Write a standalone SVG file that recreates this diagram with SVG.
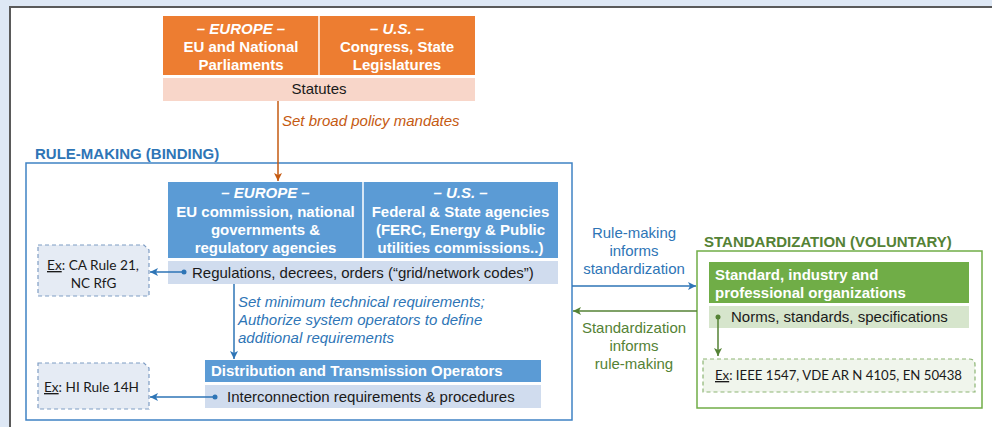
<svg xmlns="http://www.w3.org/2000/svg" width="992" height="427" viewBox="0 0 992 427">
<defs>
<style>
text{font-family:"Liberation Sans",Arial,sans-serif;}
.hw{font-size:15px;font-weight:bold;fill:#fff;text-anchor:middle;}
.hwl{font-size:15px;font-weight:bold;fill:#fff;}
.bar{font-size:15px;fill:#1a1a1a;}
.ex{font-family:Lato,"Liberation Sans",sans-serif;font-size:13.5px;fill:#1a1a1a;}
.it{font-size:15px;font-style:italic;}
.ttl{font-size:15px;font-weight:bold;}
</style>
<marker id="aO" markerWidth="9" markerHeight="8" refX="8" refY="4" orient="auto" markerUnits="userSpaceOnUse"><path d="M0,0 L8,4 L0,8 L2,4 Z" fill="#C55A11"/></marker>
<marker id="aB" markerWidth="9" markerHeight="8" refX="8" refY="4" orient="auto" markerUnits="userSpaceOnUse"><path d="M0,0 L8,4 L0,8 L2,4 Z" fill="#2E75B6"/></marker>
<marker id="aG" markerWidth="9" markerHeight="8" refX="8" refY="4" orient="auto" markerUnits="userSpaceOnUse"><path d="M0,0 L8,4 L0,8 L2,4 Z" fill="#548235"/></marker>
<marker id="dB" markerWidth="6" markerHeight="6" refX="3" refY="3" markerUnits="userSpaceOnUse"><circle cx="3" cy="3" r="2.5" fill="#2E75B6"/></marker>
<marker id="dG" markerWidth="6" markerHeight="6" refX="3" refY="3" markerUnits="userSpaceOnUse"><circle cx="3" cy="3" r="2.5" fill="#548235"/></marker>
</defs>
<rect x="0" y="0" width="992" height="427" fill="#DEE8F5"/>
<rect x="10" y="7" width="1000" height="440" fill="#fff" stroke="#5a5a5a" stroke-width="2"/>

<g id="legislature">
<rect x="163" y="16" width="156" height="59" fill="#ED7D31"/>
<rect x="319" y="16" width="156" height="59" fill="#ED7D31"/>
<line x1="319" y1="16" x2="319" y2="75" stroke="#fff" stroke-width="1.5"/>
<text class="hw" x="241" y="34"><tspan font-style="italic">– EUROPE –</tspan></text>
<text class="hw" x="241" y="52">EU and National</text>
<text class="hw" x="241" y="70">Parliaments</text>
<text class="hw" x="397" y="34"><tspan font-style="italic">– U.S. –</tspan></text>
<text class="hw" x="397" y="52">Congress, State</text>
<text class="hw" x="397" y="70">Legislatures</text>
<rect x="163" y="78" width="312" height="23" fill="#F8D6C9"/>
<text class="bar" x="319" y="94" text-anchor="middle">Statutes</text>
</g>

<g id="rulemaking">
<rect x="26" y="163" width="546" height="257" fill="none" stroke="#3F82C4" stroke-width="1.5"/>
<text class="ttl" x="35" y="159" fill="#2E75B6">RULE-MAKING (BINDING)</text>
</g>

<g id="agencies">
<rect x="168" y="182" width="390" height="76" fill="#5B9BD5"/>
<line x1="363" y1="182" x2="363" y2="258" stroke="#fff" stroke-width="1.5"/>
<text class="hw" x="265.5" y="198"><tspan font-style="italic">– EUROPE –</tspan></text>
<text class="hw" x="265.5" y="217">EU commission, national</text>
<text class="hw" x="265.5" y="235">governments &amp;</text>
<text class="hw" x="265.5" y="253">regulatory agencies</text>
<text class="hw" x="460.5" y="198"><tspan font-style="italic">– U.S. –</tspan></text>
<text class="hw" x="460.5" y="217">Federal &amp; State agencies</text>
<text class="hw" x="460.5" y="235">(FERC, Energy &amp; Public</text>
<text class="hw" x="460.5" y="253">utilities commissions..)</text>
<rect x="168" y="261" width="390" height="23" fill="#D0DCEE"/>
<text class="bar" x="192" y="278">Regulations, decrees, orders (“grid/network codes”)</text>
</g>

<g id="ex-ca">
<path d="M38,245 H144 L149,250 V296 H38 Z" fill="#E5EBF4" stroke="#7F9DC4" stroke-width="1.2" stroke-dasharray="4,3"/>
<text class="ex" x="47" y="270" textLength="92" lengthAdjust="spacingAndGlyphs"><tspan text-decoration="underline">Ex</tspan>: CA Rule 21,</text>
<text class="ex" x="93.5" y="288" text-anchor="middle">NC RfG</text>
</g>

<g id="operators">
<rect x="205" y="360" width="336" height="22" fill="#5B9BD5"/>
<text class="hwl" x="211" y="376">Distribution and Transmission Operators</text>
<rect x="205" y="385" width="336" height="23" fill="#D0DCEE"/>
<text class="bar" x="227" y="402">Interconnection requirements &amp; procedures</text>
</g>

<g id="ex-hi">
<path d="M38,363 H144 L149,368 V409 H38 Z" fill="#E5EBF4" stroke="#7F9DC4" stroke-width="1.2" stroke-dasharray="4,3"/>
<text class="ex" x="44" y="392" textLength="95" lengthAdjust="spacingAndGlyphs"><tspan text-decoration="underline">Ex</tspan>: HI Rule 14H</text>
</g>

<g id="standardization">
<rect x="697" y="251" width="285" height="157" fill="none" stroke="#70AD47" stroke-width="1.5"/>
<text class="ttl" x="704" y="247" fill="#548235">STANDARDIZATION (VOLUNTARY)</text>
</g>

<g id="organizations">
<rect x="709" y="262" width="260" height="41" fill="#70AD47"/>
<text class="hwl" x="715" y="280">Standard, industry and</text>
<text class="hwl" x="715" y="298">professional organizations</text>
<rect x="709" y="306" width="260" height="22" fill="#D6E5CC"/>
<text class="bar" x="731" y="322">Norms, standards, specifications</text>
</g>

<g id="ex-ieee">
<path d="M703,359 H969 Q975,359 975,365 V392 H703 Z" fill="#F0F5EC" stroke="#8DB574" stroke-width="1.2" stroke-dasharray="4,3"/>
<text class="ex" x="715" y="380" textLength="247" lengthAdjust="spacingAndGlyphs"><tspan text-decoration="underline">Ex</tspan>: IEEE 1547, VDE AR N 4105, EN 50438</text>
</g>

<g id="connectors" fill="none" stroke-width="1.5">
<line x1="278" y1="101" x2="278" y2="181" stroke="#C55A11" marker-end="url(#aO)"/>
<text class="it" x="282" y="126" fill="#C55A11" stroke="none">Set broad policy mandates</text>
<line x1="184" y1="272" x2="150" y2="272" stroke="#2E75B6" marker-start="url(#dB)" marker-end="url(#aB)"/>
<line x1="234" y1="284" x2="234" y2="359" stroke="#2E75B6" marker-end="url(#aB)"/>
<text class="it" fill="#2E75B6" stroke="none"><tspan x="238" y="307">Set minimum technical requirements;</tspan><tspan x="238" y="325">Authorize system operators to define</tspan><tspan x="238" y="343">additional requirements</tspan></text>
<line x1="215" y1="397" x2="150" y2="397" stroke="#2E75B6" marker-start="url(#dB)" marker-end="url(#aB)"/>
<line x1="572" y1="286" x2="696" y2="286" stroke="#2E75B6" marker-end="url(#aB)"/>
<text font-size="15" fill="#2E75B6" stroke="none" text-anchor="middle"><tspan x="634" y="238">Rule-making</tspan><tspan x="634" y="256">informs</tspan><tspan x="634" y="274">standardization</tspan></text>
<line x1="697" y1="311" x2="573" y2="311" stroke="#548235" marker-end="url(#aG)"/>
<text font-size="15" fill="#548235" stroke="none" text-anchor="middle"><tspan x="634" y="333">Standardization</tspan><tspan x="634" y="351">informs</tspan><tspan x="634" y="369">rule-making</tspan></text>
<line x1="718" y1="317" x2="718" y2="356" stroke="#548235" marker-start="url(#dG)" marker-end="url(#aG)"/>
</g>
</svg>
